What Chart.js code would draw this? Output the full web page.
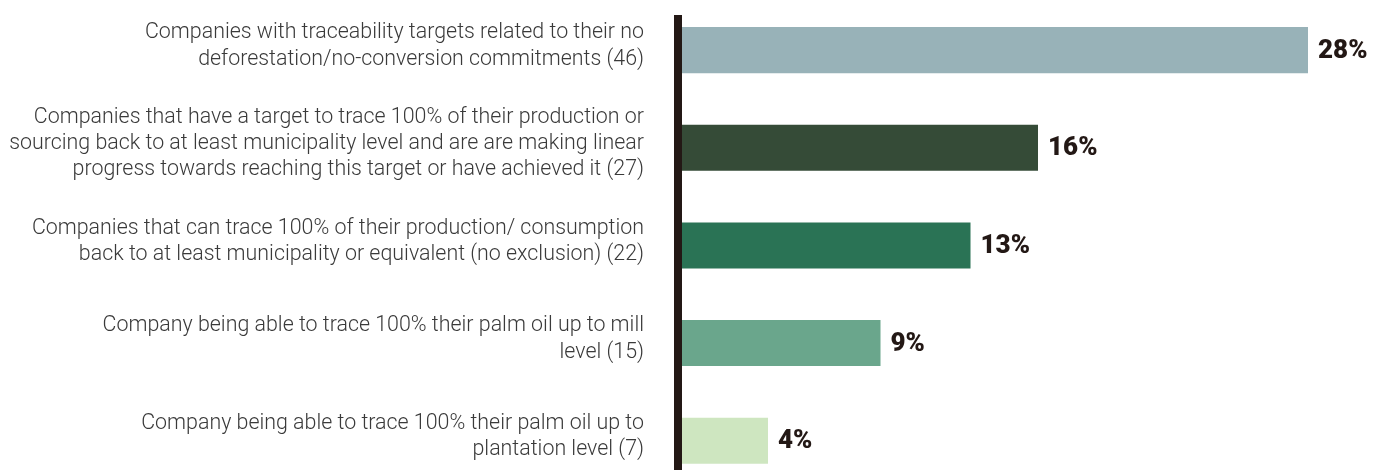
<!DOCTYPE html>
<html>
<head>
<meta charset="utf-8">
<script src="https://cdn.jsdelivr.net/npm/chart.js@4/dist/chart.umd.min.js"></script>
<style>
  html, body { margin: 0; padding: 0; background: #fff; }
  #wrap { width: 1373px; height: 470px; position: relative; }
</style>
</head>
<body>
<div id="wrap"><canvas id="chart"></canvas></div>
<script>
// categorias (rótulos em várias linhas)
const categories = [
  ['Companies with traceability targets related to their no', 'deforestation/no-conversion commitments (46)'],
  ['Companies that have a target to trace 100% of their production or', 'sourcing back to at least municipality level and are are making linear', 'progress towards reaching this target or have achieved it (27)'],
  ['Companies that can trace 100% of their production/ consumption', 'back to at least municipality or equivalent (no exclusion) (22)'],
  ['Company being able to trace 100% their palm oil up to mill', 'level (15)'],
  ['Company being able to trace 100% their palm oil up to', 'plantation level (7)']
];
const values = [28, 16, 13, 9, 4];
const barColors = ['#98b2b8', '#354b37', '#2a7355', '#6aa68c', '#cee6c0'];

// rótulos de valor à direita das barras
const valueLabels = {
  id: 'valueLabels',
  afterDatasetsDraw(chart) {
    const ctx = chart.ctx;
    const meta = chart.getDatasetMeta(0);
    ctx.save();
    ctx.font = '900 26px Roboto';
    ctx.fillStyle = '#231815';
    ctx.textBaseline = 'middle';
    ctx.textAlign = 'left';
    meta.data.forEach((bar, i) => {
      ctx.fillText(values[i] + '%', bar.x + 10, bar.y + 1);
    });
    ctx.restore();
  }
};

const ctx = document.getElementById('chart').getContext('2d');
new Chart(ctx, {
  type: 'bar',
  data: {
    datasets: [{
      data: values.map((v, i) => ({ x: v, y: i })),
      backgroundColor: barColors,
      borderWidth: 0,
      barPercentage: 0.59,
      categoryPercentage: 0.8
    }]
  },
  options: {
    indexAxis: 'y',
    responsive: true,
    maintainAspectRatio: false,
    animation: false,
    layout: { padding: { top: 15, right: 20, bottom: 0, left: 0 } },
    plugins: {
      legend: { display: false },
      tooltip: { enabled: false }
    },
    scales: {
      x: {
        type: 'linear',
        min: 0,
        max: 30,
        border: { display: false },
        ticks: { display: false },
        afterFit: s => { s.height = 0; s.paddingLeft = 0; s.paddingRight = 0; },
        grid: {
          z: 1,
          drawTicks: false,
          lineWidth: 8,
          color: c => (c.tick && c.tick.value === 0 ? '#231815' : 'rgba(0,0,0,0)')
        }
      },
      y: {
        type: 'linear',
        reverse: true,
        offset: false,
        min: -0.36,
        max: 4.3,
        border: { display: false },
        grid: { display: false, offset: false },
        afterBuildTicks: s => { s.ticks = categories.map((_, i) => ({ value: i })); },
        afterFit: s => { s.width = 678; s.paddingTop = 0; s.paddingBottom = 0; },
        ticks: {
          autoSkip: false,
          padding: 26,
          labelOffset: -4,
          color: '#3a3a3a',
          font: { family: 'Roboto', weight: '300', size: 21.4, lineHeight: 1.23 },
          callback: v => categories[v] || ''
        }
      }
    }
  },
  plugins: [valueLabels]
});
</script>
</body>
</html>
